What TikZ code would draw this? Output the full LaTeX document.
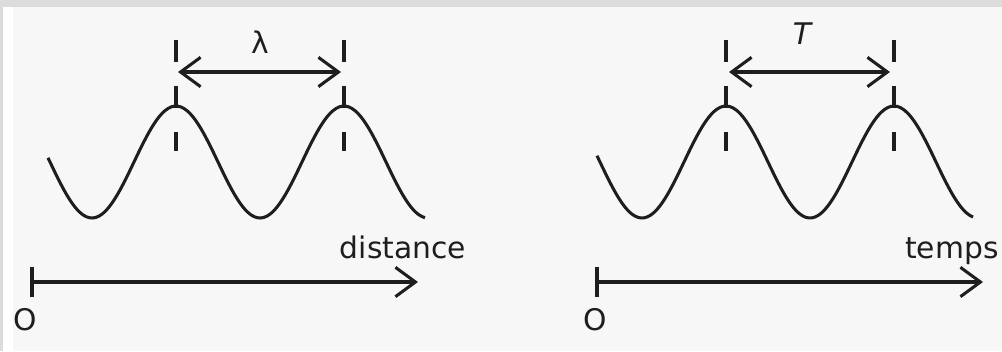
\documentclass[tikz,border=0pt]{standalone}
\usepackage{fontspec}
\setmainfont{DejaVu Sans}
\usetikzlibrary{arrows.meta}
\definecolor{frame}{HTML}{DCDCDC}
\definecolor{paper}{HTML}{F7F7F7}
\definecolor{ink}{HTML}{1E1E1E}

\begin{document}
\begin{tikzpicture}[
            x=0.015cm, y=-0.015cm,
            font=\fontsize{12.7}{15}\selectfont,
            wave/.style={ink, line width=1.3pt},
            marker/.style={ink, line width=1.3pt, dash pattern=on 0.33cm off 0.36cm},
            span/.style={ink, line width=1.3pt,
                {Straight Barb[length=0.3cm, width=0.44cm]}-{Straight Barb[length=0.3cm, width=0.44cm]}},
            axis/.style={ink, line width=1.3pt, -{Straight Barb[length=0.3cm, width=0.44cm]}},
            tick/.style={ink, line width=1.3pt},
            lbl/.style={text=ink, inner sep=0pt}
        ]

        % --- Background ---
        \fill[frame] (0,0) rectangle (1002,351);
        \fill[white] (3,7) rectangle (1002,351);
        \fill[paper] (13,7) rectangle (1002,351);

        % --- Left: wave in space ---
        \draw[wave] plot[domain=48:425, samples=120, smooth] (\x, {162+56*cos((\x-92)*2.142857)});
        \coordinate (la) at (176,40);  \coordinate (lb) at (176,151);
        \coordinate (lc) at (344,40);  \coordinate (ld) at (344,151);
        \draw[marker] (la) -- (lb);
        \draw[marker] (lc) -- (ld);
        \coordinate (ls) at (178,72);  \coordinate (le) at (341,72);
        \draw[span] (ls) -- (le);
        \node[lbl] (lam) at (260,42) {λ};

        \coordinate (ox) at (32,282);  \coordinate (ex) at (418,282);
        \draw[axis] (ox) -- (ex);
        \draw[tick] (32,267) -- (32,297);
        \node[lbl] (o1) at (25,320) {O};
        \node[lbl, anchor=base] (dist) at (403,258) {distance};

        % --- Right: wave in time ---
        \draw[wave] plot[domain=597:973, samples=120, smooth] (\x, {162+56*cos((\x-642)*2.142857)});
        \coordinate (ra) at (726,40);  \coordinate (rb) at (726,151);
        \coordinate (rc) at (894,40);  \coordinate (rd) at (894,151);
        \draw[marker] (ra) -- (rb);
        \draw[marker] (rc) -- (rd);
        \coordinate (rs) at (729,72);  \coordinate (re) at (890,72);
        \draw[span] (rs) -- (re);
        \node[lbl, font=\fontsize{12.7}{15}\selectfont\itshape] (per) at (802,34) {T};

        \coordinate (ot) at (597,282); \coordinate (et) at (983,282);
        \draw[axis] (ot) -- (et);
        \draw[tick] (597,267) -- (597,297);
        \node[lbl] (o2) at (595,320) {O};
        \node[lbl, anchor=base] (tps) at (952,258) {temps};

    \end{tikzpicture}
\end{document}
